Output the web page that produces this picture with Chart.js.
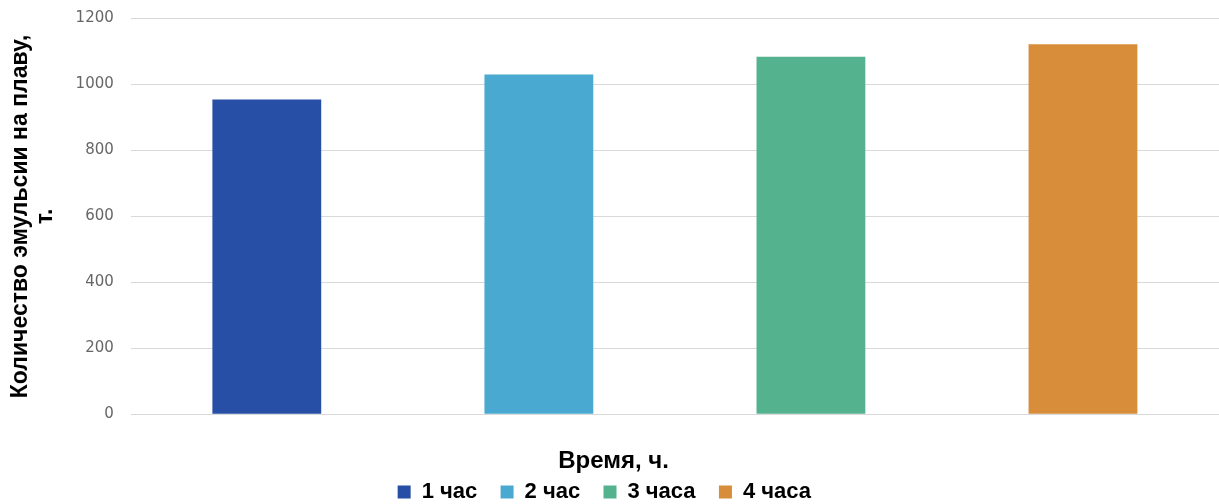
<!DOCTYPE html>
<html>
<head>
<meta charset="utf-8">
<script src="https://cdn.jsdelivr.net/npm/chart.js@4"></script>
<style>
  html, body { margin: 0; padding: 0; background: #fff; }
  #wrap { width: 1219px; height: 504px; }
</style>
</head>
<body>
<div id="wrap"><canvas id="myChart" width="1219" height="504"></canvas></div>
<script>
// данные диаграммы
var categories = ['1 час', '2 час', '3 часа', '4 часа'];
var values = [954, 1030, 1084, 1122];
var barColors = ['#274FA5', '#49A9D1', '#54B28F', '#D78D39'];
var yTicks = [0, 200, 400, 600, 800, 1000, 1200];

var ctx = document.getElementById('myChart').getContext('2d');

var myChart = new Chart(ctx, {
    type: 'bar',
    data: {
        labels: categories,
        datasets: [{
            data: values,
            backgroundColor: barColors,
            borderWidth: 0,
            barPercentage: 0.4,
            categoryPercentage: 1
        }]
    },
    options: {
        responsive: false,
        animation: false,
        layout: { padding: { top: 0, right: 0, left: 8, bottom: -9 } },
        plugins: {
            tooltip: { enabled: false },
            // подпись оси X рисуем заголовком снизу, над легендой
            title: {
                display: true,
                position: 'bottom',
                text: 'Время, ч.',
                color: '#000',
                font: { family: 'Liberation Sans', size: 24, weight: 'bold', lineHeight: 1.2 },
                padding: { top: 25, bottom: 0 }
            },
            legend: {
                position: 'bottom',
                weight: 3000,
                labels: {
                    color: '#000',
                    font: { family: 'Liberation Sans', size: 22, weight: 'bold' },
                    boxWidth: 13,
                    boxHeight: 13,
                    padding: 5,
                    generateLabels: function () {
                        return categories.map(function (c, i) {
                            return {
                                text: c + '   ',
                                fillStyle: barColors[i],
                                strokeStyle: barColors[i],
                                lineWidth: 0,
                                index: i
                            };
                        });
                    }
                },
                onClick: null
            }
        },
        scales: {
            x: {
                ticks: { display: false },
                grid: { display: false },
                border: { display: false }
            },
            y: {
                min: 0,
                max: 1200,
                afterBuildTicks: function (axis) {
                    axis.ticks = yTicks.map(function (v) { return { value: v }; });
                },
                ticks: {
                    color: '#666',
                    // маленькая высота строки, чтобы сверху не было лишнего отступа
                    font: { family: 'DejaVu Sans', size: 15, lineHeight: 0.2 },
                    padding: 17,
                    callback: function (v) { return String(v); }
                },
                grid: {
                    color: '#d9d9d9',
                    lineWidth: 1,
                    drawTicks: false
                },
                border: { display: false },
                title: {
                    display: true,
                    text: ['Количество эмульсии на плаву,', 'т.'],
                    color: '#000',
                    font: { family: 'Liberation Sans', size: 23, weight: 'bold', lineHeight: 1.1 },
                    padding: { top: 0, bottom: 0 }
                }
            }
        }
    }
});
</script>
</body>
</html>
